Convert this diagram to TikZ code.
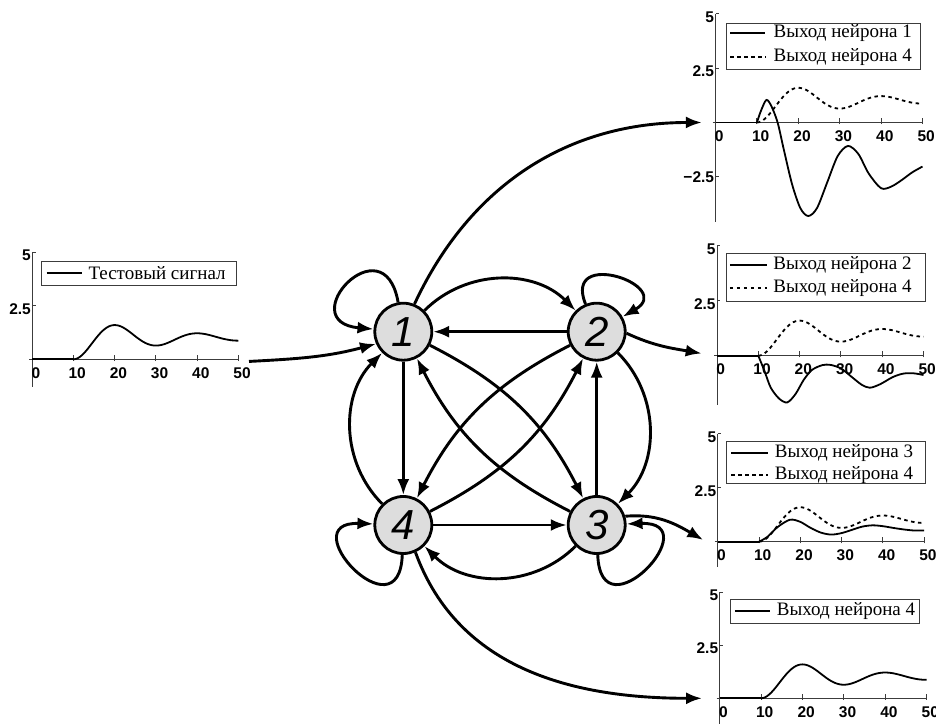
\documentclass[tikz,border=0pt]{standalone}
\usepackage{fontspec}
\setmainfont{Liberation Serif}
\setsansfont{Liberation Sans}
\usetikzlibrary{arrows.meta}
\definecolor{nodegray}{RGB}{221,221,221}
\definecolor{axisgray}{RGB}{60,60,60}
\tikzset{
  neuron/.style={circle, draw=black, line width=2.8pt, fill=nodegray,
                 minimum size=57pt, inner sep=0pt,
                 font=\fontsize{42}{42}\selectfont\sffamily\itshape},
  link/.style={-{Latex[length=16pt,width=12pt]}, line width=2.9pt},
  axis/.style={draw=axisgray, line width=1pt},
  ticklab/.style={inner sep=0pt, font=\fontsize{15.5}{15.5}\selectfont\sffamily\bfseries},
  legtext/.style={anchor=west, inner sep=0pt, font=\fontsize{19}{19}\selectfont},
  legbox/.style={draw=axisgray, line width=1pt},
  sig/.style={line width=1.8pt},
  sigdash/.style={line width=1.8pt, dash pattern=on 3.5pt off 3.5pt},
  declare function={resp(\x)=1-exp(-0.0511*(\x-10))*(cos(18*(\x-10))+0.1627*sin(18*(\x-10)));}
}
% axes of one small plot, #1 = lower end of the y axis
\newcommand{\plotaxes}[1]{%
  \draw[axis] (-0.7,0) -- (50,0);
  \draw[axis] (0,5) -- (0,#1);
  \draw[axis] (0,5) -- (0.8,5);
  \draw[axis] (0,2.5) -- (0.8,2.5);
  \node[ticklab, anchor=east] (y5) at (-0.3,4.85) {5};
  \node[ticklab, anchor=east] (y25) at (-0.3,2.35) {2.5};
  \foreach \k in {10,20,...,50}
    \draw[axis] (\k,-0.08) -- (\k,0.2);
  \foreach \k in {0,10,...,50}
    \node[ticklab, anchor=north] (x\k) at (\k+0.9,-0.37) {\k};
  \draw[sig] (0,0) -- (10,0);
}

\begin{document}
\begin{tikzpicture}[x=1pt, y=1pt]
  \useasboundingbox (0,0) rectangle (936,725);

  % test signal
  \begin{scope}[shift={(32.3,365.7)}, x=4.12pt, y=21.4pt, name prefix=p0-]
    \plotaxes{-1.29}
    \draw[legbox] (2.3,4.56) rectangle (49.6,3.47);
    \draw[sig] (3.5,4.05) -- (12,4.05);
    \node[legtext] (la) at (13.6,4.05) {Тестовый сигнал};
    \draw[sig] plot[domain=10:50, samples=81] (\x,{resp(\x)});
    \coordinate (out) at (52.6,-0.1);
  \end{scope}

  % neuron 1
  \begin{scope}[shift={(715.5,602.5)}, x=4.14pt, y=21.7pt, name prefix=pa-]
    \plotaxes{-4.57}
    \draw[axis] (0,-2.5) -- (0.8,-2.5);
    \node[ticklab, anchor=east] (ym) at (-0.3,-2.5) {−2.5};
    \draw[legbox] (2.54,4.57) rectangle (49.4,2.42);
    \draw[sig] (3.5,4.11) -- (12,4.11);
    \draw[sigdash] (3.5,3.03) -- (12,3.03);
    \node[legtext] (la) at (14,4.11) {Выход нейрона 1};
    \node[legtext] (lb) at (14,3.03) {Выход нейрона 4};
    \draw[sigdash] plot[domain=10:50, samples=81] (\x,{resp(\x)});
    \draw[sig] plot[smooth] coordinates {(10,0) (11,0.55) (12.3,1.04) (13.5,0.75)
      (15,0) (16.5,-1.25) (18.5,-2.85) (20.5,-3.95) (22.4,-4.31) (24.5,-3.95)
      (27,-2.75) (29.5,-1.55) (32,-1.08) (34.5,-1.45) (37,-2.35) (40,-3.03)
      (42.5,-2.95) (45,-2.65) (47.5,-2.3) (50,-2.03)};
    \coordinate (in) at (-3.3,0);
  \end{scope}

  % neuron 2
  \begin{scope}[shift={(717,369.3)}, x=4.13pt, y=21.94pt, name prefix=pb-]
    \plotaxes{-2.25}
    \draw[legbox] (2.35,4.67) rectangle (50.4,2.46);
    \draw[sig] (3.1,4.13) -- (12,4.13);
    \draw[sigdash] (3.1,3.07) -- (12,3.07);
    \node[legtext] (la) at (13.6,4.13) {Выход нейрона 2};
    \node[legtext] (lb) at (13.6,3.07) {Выход нейрона 4};
    \draw[sigdash] plot[domain=10:50, samples=81] (\x,{resp(\x)});
    \draw[sig] plot[smooth] coordinates {(10,0) (11.5,-0.7) (13,-1.45) (15,-1.95)
      (17,-2.13) (19,-1.75) (21,-1.1) (23,-0.65) (25.5,-0.43) (27.5,-0.42)
      (30,-0.58) (32.5,-0.95) (35,-1.32) (37,-1.46) (39.5,-1.3) (42.5,-0.98)
      (45,-0.82) (47.5,-0.8) (50,-0.88)};
    \coordinate (in) at (-3.7,0.1);
  \end{scope}

  % neuron 3
  \begin{scope}[shift={(717.7,183.3)}, x=4.13pt, y=21.54pt, name prefix=pc-]
    \plotaxes{-1.16}
    \draw[legbox] (2.18,4.64) rectangle (50.2,2.71);
    \draw[sig] (3.3,4.1) -- (12.2,4.1);
    \draw[sigdash] (3.3,3.1) -- (12.2,3.1);
    \node[legtext] (la) at (13.8,4.1) {Выход нейрона 3};
    \node[legtext] (lb) at (13.8,3.1) {Выход нейрона 4};
    \draw[sigdash] plot[domain=10:50, samples=81] (\x,{resp(\x)});
    \draw[sig] plot[smooth] coordinates {(10,0) (12,0.22) (14.5,0.68) (17.5,1.02)
      (20,0.92) (22.5,0.64) (25,0.42) (27.5,0.33) (30,0.4) (32.5,0.55)
      (35,0.7) (37.5,0.76) (40,0.72) (42.5,0.64) (45,0.57) (47.5,0.52) (50,0.52)};
    \coordinate (in) at (-3.5,0.08);
  \end{scope}

  % neuron 4
  \begin{scope}[shift={(719.6,26.7)}, x=4.14pt, y=21.2pt, name prefix=pd-]
    \plotaxes{-1.2}
    \draw[legbox] (2.68,4.64) rectangle (48.4,3.54);
    \draw[sig] (3.7,4.1) -- (12.2,4.1);
    \node[legtext] (la) at (13.8,4.1) {Выход нейрона 4};
    \draw[sig] plot[domain=10:50, samples=81] (\x,{resp(\x)});
    \coordinate (in) at (-4.25,0);
  \end{scope}

  % network
  \node[neuron] (n1) at (403.3,393.3) {1};
  \node[neuron] (n2) at (596.7,393.3) {2};
  \node[neuron] (n3) at (596.7,200) {3};
  \node[neuron] (n4) at (403.3,200) {4};

  \draw[link] (n1) to[out=100, in=175, looseness=5.8] (n1);
  \draw[link] (n2) to[out=112, in=30, looseness=4] (n2);
  \draw[link] (n3) to[out=-88, in=2, looseness=5] (n3);
  \draw[link] (n4) to[out=-92, in=178, looseness=5] (n4);

  \draw[link] (n2) -- (n1);
  \draw[link] (n1) -- (n4);
  \draw[link] (n3) -- (n2);
  \draw[link] (n4) -- (n3);
  \draw[link] (n1) to[bend left=45] (n2);
  \draw[link] (n2) to[bend left=45] (n3);
  \draw[link] (n3) to[bend left=45] (n4);
  \draw[link] (n4) to[bend left=45] (n1);
  \draw[link] (n1) to[bend left=18] (n3);
  \draw[link] (n3) to[bend left=18] (n1);
  \draw[link] (n2) to[bend right=18] (n4);
  \draw[link] (n4) to[bend right=18] (n2);

  \draw[link] (p0-out) to[out=3, in=195] (n1.204);
  \draw[link] (n1.68) to[out=65, in=180] (pa-in);
  \draw[link] (n2.-3) to[out=-25, in=170] (pb-in);
  \draw[link] (n3.17) to[out=5, in=150] (pc-in);
  \draw[link] (n4.-66) to[out=-70, in=180] (pd-in);
\end{tikzpicture}
\end{document}
